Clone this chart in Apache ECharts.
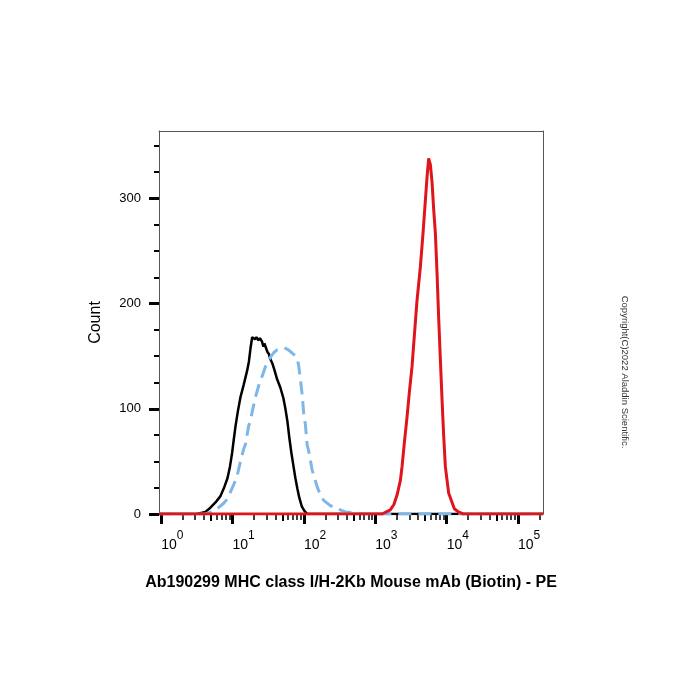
<!DOCTYPE html>
<html>
<head>
<meta charset="utf-8">
<script src="https://cdn.jsdelivr.net/npm/echarts@6/dist/echarts.min.js"></script>
<style>
  html, body { margin: 0; padding: 0; background: #fff; }
  #chart { width: 700px; height: 700px; }
</style>
</head>
<body>
<div id="chart"></div>
<script>
// x values are log10 of the PE intensity, y values are counts
const blackX = [-0.03, 0.504, 0.620, 0.690, 0.761, 0.831, 0.887, 0.929, 0.964, 0.994, 1.020, 1.041, 1.076, 1.111, 1.157, 1.204, 1.230, 1.251, 1.275, 1.293, 1.314, 1.335, 1.363, 1.384, 1.412, 1.433, 1.447, 1.468, 1.489, 1.510, 1.531, 1.559, 1.587, 1.625, 1.671, 1.713, 1.741, 1.769, 1.797, 1.825, 1.853, 1.881, 1.909, 1.937, 1.972, 2.007, 2.049, 5.35];
const blackY = [0, 0, 2, 6, 11, 17, 26, 34, 45, 58, 72, 83, 98, 111, 123, 136, 145, 157, 168, 167, 166, 168, 165, 167, 164, 159, 162, 158, 154, 152, 147, 143, 137, 128, 120, 110, 100, 88, 72, 58, 46, 34, 24, 15, 7, 3, 0, 0];

const blueX = [-0.03, 0.62, 0.714, 0.803, 0.873, 0.924, 0.971, 1.017, 1.064, 1.111, 1.157, 1.181, 1.227, 1.251, 1.275, 1.321, 1.367, 1.415, 1.461, 1.507, 1.531, 1.573, 1.625, 1.671, 1.727, 1.783, 1.835, 1.867, 1.905, 1.927, 1.951, 1.975, 1.997, 2.021, 2.045, 2.067, 2.115, 2.137, 2.185, 2.231, 2.277, 2.371, 2.465, 2.581, 2.721, 2.861, 5.35];
const blueY = [0, 0, 2, 6, 10, 14, 21, 28, 36, 50, 62, 66, 84, 88, 97, 111, 122, 131, 140, 146, 149, 153, 156, 157, 158, 156, 153, 151, 148, 141, 128, 114, 96, 85, 66, 60, 42, 37, 26, 18, 13, 8, 5, 2, 1, 0, 0];

const redX = [-0.03, 3.095, 3.211, 3.261, 3.305, 3.352, 3.375, 3.408, 3.445, 3.478, 3.515, 3.548, 3.585, 3.632, 3.667, 3.702, 3.725, 3.748, 3.772, 3.796, 3.818, 3.842, 3.866, 3.888, 3.912, 3.936, 3.958, 3.982, 4.006, 4.028, 4.076, 4.108, 4.164, 4.234, 5.35];
const redY = [0, 0, 4, 9, 18, 32, 45, 68, 92, 116, 140, 170, 203, 235, 265, 298, 320, 338, 332, 315, 290, 267, 228, 187, 147, 108, 75, 45, 32, 20, 11, 5, 2, 0, 0];

const decades = [0, 1, 2, 3, 4, 5];
const yTicks = [0, 100, 200, 300];
const yMinorTicks = [25, 50, 75, 125, 150, 175, 225, 250, 275, 325, 350];

const minorTicks = [];
const midTicks = [];
decades.forEach(function (d) {
    [2, 3, 4, 6, 7, 8, 9].forEach(function (k) {
        const v = d + Math.log10(k);
        if (v < 5.35) minorTicks.push(v);
    });
    if (d + Math.log10(5) < 5.35) midTicks.push(d + Math.log10(5));
});

const font = 'Liberation Sans, Arial, sans-serif';
const frame = '#555';

function pairs(xs, ys) {
    return xs.map(function (x, i) { return [x, ys[i]]; });
}

function extraX(position, ticks, len, width) {
    return {
        type: 'value', min: -0.03, max: 5.35, position: position,
        axisLine: { show: !ticks, onZero: false, lineStyle: { color: frame, width: 1 } },
        axisTick: ticks ? { show: true, customValues: ticks, length: len, lineStyle: { color: '#000', width: width } } : { show: false },
        axisLabel: { show: false },
        splitLine: { show: false }
    };
}

let myChart = echarts.init(document.getElementById('chart'));
myChart.setOption({
    backgroundColor: '#fff',
    animation: false,
    textStyle: { fontFamily: font },
    grid: { left: 159, right: 157, top: 131, bottom: 186 },
    xAxis: [
        {
            type: 'value', min: -0.03, max: 5.35, position: 'bottom',
            axisLine: { show: true, onZero: false, lineStyle: { color: frame, width: 1 } },
            axisTick: { show: true, customValues: decades, length: 10, lineStyle: { color: '#000', width: 3 } },
            axisLabel: {
                customValues: decades, margin: 24, align: 'left',
                formatter: function (v) { return '{a|10}{b|' + v + '}'; },
                rich: {
                    a: { fontSize: 14, lineHeight: 14, verticalAlign: 'bottom', color: '#000', fontFamily: font },
                    b: { fontSize: 12, lineHeight: 12, padding: [0, 0, 10, 0], verticalAlign: 'bottom', color: '#000', fontFamily: font }
                }
            },
            splitLine: { show: false },
            name: 'Ab190299 MHC class I/H-2Kb Mouse mAb (Biotin) - PE',
            nameLocation: 'middle', nameGap: 61,
            nameTextStyle: { fontSize: 16, fontWeight: 'bold', color: '#000', fontFamily: font }
        },
        extraX('bottom', minorTicks, 6, 1.5),
        extraX('bottom', midTicks, 7, 2),
        extraX('top', null)
    ],
    yAxis: [
        {
            type: 'value', min: 0, max: 364, position: 'left',
            axisLine: { show: true, onZero: false, lineStyle: { color: frame, width: 1 } },
            axisTick: { show: true, customValues: yTicks, length: 10, lineStyle: { color: '#000', width: 3 } },
            axisLabel: { customValues: yTicks, margin: 18, fontSize: 13, color: '#000' },
            splitLine: { show: false },
            name: 'Count', nameLocation: 'middle', nameGap: 55,
            nameTextStyle: { fontSize: 16, color: '#000', fontFamily: font }
        },
        {
            type: 'value', min: 0, max: 364, position: 'left',
            axisLine: { show: false, onZero: false },
            axisTick: { show: true, customValues: yMinorTicks, length: 5, lineStyle: { color: '#000', width: 2 } },
            axisLabel: { show: false },
            splitLine: { show: false }
        },
        {
            type: 'value', min: 0, max: 364, position: 'right',
            axisLine: { show: true, onZero: false, lineStyle: { color: frame, width: 1 } },
            axisTick: { show: false },
            axisLabel: { show: false },
            splitLine: { show: false }
        }
    ],
    graphic: [{
        type: 'text', x: 625, y: 372, rotation: -Math.PI / 2,
        style: {
            text: 'Copyright(C)2022 Aladdin Scientific.',
            font: '9.5px ' + font, fill: '#333',
            textAlign: 'center', textVerticalAlign: 'middle'
        }
    }],
    series: [
        {
            name: 'black', type: 'line', showSymbol: false, xAxisIndex: 0, yAxisIndex: 0,
            data: pairs(blackX, blackY),
            lineStyle: { color: '#000', width: 2.5 }
        },
        {
            name: 'blue', type: 'line', showSymbol: false, xAxisIndex: 0, yAxisIndex: 0,
            data: pairs(blueX, blueY),
            lineStyle: { color: '#7db6e8', width: 3, type: [13, 7] }
        },
        {
            name: 'red', type: 'line', showSymbol: false, xAxisIndex: 0, yAxisIndex: 0,
            data: pairs(redX, redY),
            lineStyle: { color: '#e0141b', width: 3 }
        }
    ]
});
</script>
</body>
</html>
